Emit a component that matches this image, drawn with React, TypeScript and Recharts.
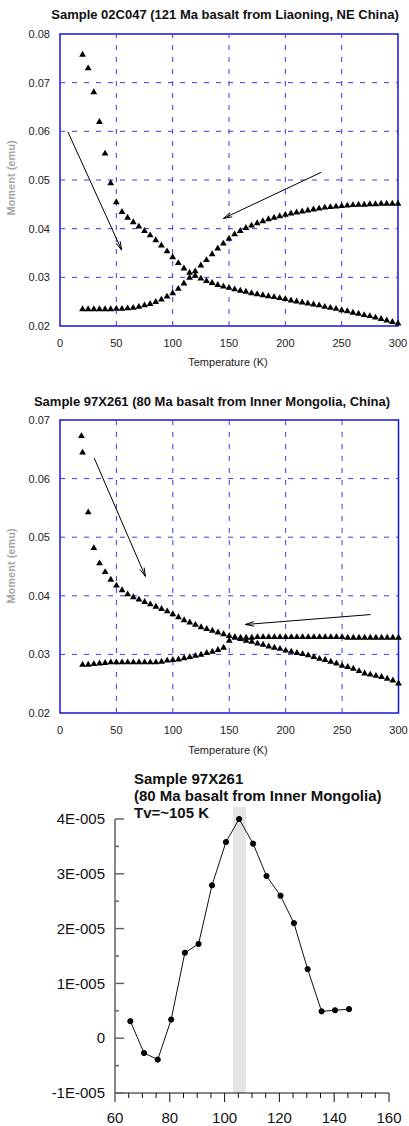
import React from 'react';
import {
  ScatterChart,
  Scatter,
  LineChart,
  Line,
  XAxis,
  YAxis,
  ReferenceLine,
  ReferenceArea,
} from 'recharts';

const FONT = 'Arial, "Liberation Sans", Helvetica, sans-serif';

// ---- Sample 02C047 ----
const tempsA = [
  20, 25, 30, 35, 40, 45, 50, 55, 60, 65, 70, 75, 80, 85, 90, 95, 100, 105, 110, 115,
  120, 125, 130, 135, 140, 145, 150, 155, 160, 165, 170, 175, 180, 185, 190, 195, 200,
  205, 210, 215, 220, 225, 230, 235, 240, 245, 250, 255, 260, 265, 270, 275, 280, 285,
  290, 295, 300,
];
const fallingA = [
  0.0758, 0.073, 0.0681, 0.062, 0.0555, 0.0494, 0.0455, 0.0435, 0.0423, 0.0414,
  0.0405, 0.0396, 0.0387, 0.0377, 0.0366, 0.0354, 0.0342, 0.033, 0.0319, 0.031,
  0.0304, 0.0298, 0.0293, 0.0289, 0.0285, 0.0282, 0.0279, 0.0276, 0.0273, 0.0271,
  0.0268, 0.0266, 0.0264, 0.0262, 0.026, 0.0258, 0.0256, 0.0253, 0.0251, 0.0249,
  0.0247, 0.0245, 0.0243, 0.024, 0.0238, 0.0236, 0.0233, 0.0231, 0.0228, 0.0226,
  0.0223, 0.0221, 0.0218, 0.0215, 0.0212, 0.0209, 0.0206,
];
const risingA = [
  0.0235, 0.0235, 0.0235, 0.0235, 0.0235, 0.0235, 0.0236, 0.0236, 0.0237, 0.0238,
  0.024, 0.0243, 0.0246, 0.025, 0.0255, 0.0261, 0.0268, 0.0277, 0.0288, 0.03,
  0.0313, 0.0325, 0.0336, 0.0348, 0.036, 0.037, 0.038, 0.0389, 0.0396, 0.0402,
  0.0407, 0.0412, 0.0416, 0.042, 0.0423, 0.0426, 0.0429, 0.0432, 0.0434, 0.0436,
  0.0438, 0.044, 0.0442, 0.0444, 0.0445, 0.0446, 0.0447, 0.0448, 0.0449, 0.045,
  0.045, 0.0451, 0.0451, 0.0452, 0.0452, 0.0452, 0.0452,
];
const arrowsA = [
  { from: [7, 0.0599], to: [54.7, 0.0356] },
  { from: [232, 0.0516], to: [145, 0.0421] },
];

// ---- Sample 97X261 ----
const tempsBFalling = [
  19, 20, 25, 30, 35, 40, 45, 50, 55, 60, 65, 70, 75, 80, 85, 90, 95, 100, 105, 110, 115,
  120, 125, 130, 135, 140, 145, 150, 155, 160, 165, 170, 175, 180, 185, 190, 195, 200,
  205, 210, 215, 220, 225, 230, 235, 240, 245, 250, 255, 260, 265, 270, 275, 280, 285,
  290, 295, 300,
];
const fallingB = [
  0.0673, 0.0645,
  0.0543, 0.0482, 0.0456, 0.0441, 0.0428, 0.0418, 0.041, 0.0403, 0.0398, 0.0394,
  0.039, 0.0386, 0.0382, 0.0378, 0.0374, 0.0369, 0.0364, 0.0359, 0.0355, 0.0351,
  0.0347, 0.0344, 0.0341, 0.0338, 0.0335, 0.0332, 0.0329, 0.0327, 0.0324, 0.0322,
  0.0319, 0.0317, 0.0314, 0.0312, 0.031, 0.0307, 0.0305, 0.0303, 0.0301, 0.0299,
  0.0296, 0.0293, 0.0291, 0.0288, 0.0285, 0.0281, 0.0279, 0.0276, 0.0272, 0.0268,
  0.0266, 0.0264, 0.0262, 0.0259, 0.0256, 0.0251,
];
const tempsBRising = tempsA;
const risingB = [
  0.0283, 0.0283, 0.0284, 0.0285, 0.0286, 0.0287, 0.0287, 0.0287, 0.0287, 0.0287,
  0.0287, 0.0287, 0.0287, 0.0287, 0.0288, 0.029, 0.0291, 0.0292, 0.0294, 0.0296,
  0.0298, 0.03, 0.0303, 0.0305, 0.0308, 0.0312, 0.0324, 0.033, 0.0329, 0.0329,
  0.0329, 0.033, 0.033, 0.033, 0.033, 0.033, 0.033, 0.033, 0.033, 0.033,
  0.033, 0.033, 0.033, 0.033, 0.033, 0.033, 0.033, 0.0329, 0.0329, 0.0329,
  0.0329, 0.0329, 0.0329, 0.0329, 0.0329, 0.0329, 0.0329,
];
const arrowsB = [
  { from: [30.3, 0.0635], to: [75.7, 0.0433] },
  { from: [275.3, 0.0368], to: [164.3, 0.0351] },
];

// ---- derivative / Tv panel ----
const tempsC = [
  65.6, 70.6, 75.6, 80.5, 85.5, 90.5, 95.4, 100.5, 105.3, 110.4, 115.3, 120.4, 125.3,
  130.3, 135.4, 140.3, 145.4,
];
const signalC = [
  3.1e-6, -2.7e-6, -3.9e-6, 3.4e-6, 1.56e-5, 1.72e-5, 2.79e-5, 3.58e-5, 4.0e-5, 3.55e-5,
  2.96e-5, 2.6e-5, 2.1e-5, 1.26e-5, 4.9e-6, 5.1e-6, 5.3e-6,
];
const tvBand = [103.1, 107.8];

const tempTicks = [0, 50, 100, 150, 200, 250, 300];
const yTicksA = [0.02, 0.03, 0.04, 0.05, 0.06, 0.07, 0.08];
const yTicksB = [0.02, 0.03, 0.04, 0.05, 0.06, 0.07];
const xTicksC = [
  60, 65, 70, 75, 80, 85, 90, 95, 100, 105, 110, 115, 120, 125, 130, 135, 140, 145, 150,
  155, 160,
];
const yTicksC = [-1e-5, -5e-6, 0, 5e-6, 1e-5, 1.5e-5, 2e-5, 2.5e-5, 3e-5, 3.5e-5, 4e-5];

const GRID = '#3a3ae8';

const zip = (ts: number[], vs: number[]) => ts.map((t, i) => ({ t, m: vs[i] }));

const Tri = (props: any) => {
  const { cx, cy } = props;
  return (
    <polygon
      points={`${cx},${cy - 3.6} ${cx + 3.4},${cy + 2.3} ${cx - 3.4},${cy + 2.3}`}
      fill="#000"
    />
  );
};

const ArrowShape = (props: any) => {
  const { x1, y1, x2, y2 } = props;
  const a = Math.atan2(y2 - y1, x2 - x1);
  const L = 9;
  const w = 0.26;
  const ax = x2 - L * Math.cos(a - w);
  const ay = y2 - L * Math.sin(a - w);
  const bx = x2 - L * Math.cos(a + w);
  const by = y2 - L * Math.sin(a + w);
  return (
    <g>
      <line x1={x1} y1={y1} x2={x2} y2={y2} stroke="#000" strokeWidth={1} />
      <polyline
        points={`${ax},${ay} ${x2},${y2} ${bx},${by}`}
        fill="none"
        stroke="#000"
        strokeWidth={1}
      />
    </g>
  );
};

type MagProps = {
  top: number;
  height: number;
  marginTop: number;
  marginRight: number;
  yDomain: [number, number];
  yTicks: number[];
  falling: { t: number; m: number }[];
  rising: { t: number; m: number }[];
  arrows: { from: number[]; to: number[] }[];
};

const MagChart = ({ top, height, marginTop, marginRight, yDomain, yTicks, falling, rising, arrows }: MagProps) => (
  <div style={{ position: 'absolute', left: 0, top, pointerEvents: 'none' }}>
    <ScatterChart
      width={409}
      height={height}
      margin={{ top: marginTop, right: marginRight, bottom: 0, left: 0 }}
      accessibilityLayer={false}
    >
      <XAxis
        type="number"
        dataKey="t"
        domain={[0, 300]}
        ticks={tempTicks}
        interval={0}
        height={30}
        axisLine={false}
        tickLine={false}
        tickSize={0}
        tickMargin={13}
        tick={{ fill: '#222', fontSize: 11, fontFamily: FONT }}
      />
      <YAxis
        type="number"
        dataKey="m"
        domain={yDomain}
        ticks={yTicks}
        interval={0}
        width={60}
        axisLine={false}
        tickLine={false}
        tickSize={0}
        tickMargin={10}
        tickFormatter={(v: number) => v.toFixed(2)}
        tick={{ fill: '#222', fontSize: 11, fontFamily: FONT }}
      />
      {tempTicks.slice(1, -1).map((t) => (
        <ReferenceLine key={`gx${t}`} x={t} stroke={GRID} strokeDasharray="5 7" />
      ))}
      {yTicks.slice(1, -1).map((v) => (
        <ReferenceLine key={`gy${v}`} y={v} stroke={GRID} strokeDasharray="5 7" />
      ))}
      <ReferenceArea
        x1={0}
        x2={300}
        y1={yDomain[0]}
        y2={yDomain[1]}
        fill="none"
        stroke="#1414e0"
        strokeWidth={1.5}
        ifOverflow="visible"
      />
      <Scatter data={falling} shape={Tri} isAnimationActive={false} />
      <Scatter data={rising} shape={Tri} isAnimationActive={false} />
      {arrows.map((a, i) => (
        <ReferenceLine
          key={`ar${i}`}
          segment={[
            { x: a.from[0], y: a.from[1] },
            { x: a.to[0], y: a.to[1] },
          ]}
          shape={ArrowShape}
          ifOverflow="visible"
        />
      ))}
    </ScatterChart>
  </div>
);

const fmtSci = (v: number) => {
  const n = Math.round(v * 1e5);
  return n === 0 ? '0' : `${n}E-005`;
};

const YTickC = (props: any) => {
  const { x, y, payload } = props;
  const v = payload.value as number;
  const major = Math.abs(v * 1e5 - Math.round(v * 1e5)) < 1e-6;
  return (
    <g>
      <line x1={x} x2={x + (major ? 9 : 4)} y1={y} y2={y} stroke="#666" strokeWidth={1.5} />
      {major && (
        <text x={x - 10} y={y} dy="0.35em" textAnchor="end" fill="#111" fontSize={15} fontFamily={FONT}>
          {fmtSci(v)}
        </text>
      )}
    </g>
  );
};

const XTickC = (props: any) => {
  const { x, y, payload } = props;
  const v = payload.value as number;
  const major = v % 20 === 0;
  return (
    <g>
      <line x1={x} x2={x} y1={y} y2={y + (major ? 9 : 5)} stroke="#111" strokeWidth={1} />
      {major && (
        <text x={x} y={y + 25} dy="0.35em" textAnchor="middle" fill="#111" fontSize={15} fontFamily={FONT}>
          {v}
        </text>
      )}
    </g>
  );
};

const axisLabel: React.CSSProperties = {
  position: 'absolute',
  fontFamily: FONT,
  fontSize: 11,
  lineHeight: '13px',
  color: '#222',
  whiteSpace: 'nowrap',
  textAlign: 'center',
};

const titleStyle: React.CSSProperties = {
  position: 'absolute',
  fontFamily: FONT,
  fontSize: 13,
  fontWeight: 'bold',
  lineHeight: '15px',
  color: '#111',
  whiteSpace: 'nowrap',
  textAlign: 'center',
};

const sideLabel: React.CSSProperties = {
  position: 'absolute',
  width: 100,
  height: 14,
  lineHeight: '14px',
  fontFamily: FONT,
  fontSize: 11,
  fontWeight: 'bold',
  color: '#a6a6a6',
  textAlign: 'center',
  transform: 'rotate(-90deg)',
  whiteSpace: 'nowrap',
};

export default function App() {
  const dataC = tempsC.map((t, i) => ({ t, v: signalC[i] }));
  return (
    <div style={{ position: 'absolute', left: 0, top: 0, width: 409, height: 1126, background: '#fff', overflow: 'hidden' }}>
      <div style={{ ...titleStyle, left: 25, top: 7, width: 400 }}>
        Sample 02C047 (121 Ma basalt from Liaoning, NE China)
      </div>
      <div style={{ ...sideLabel, left: -39, top: 171 }}>Moment (emu)</div>
      <MagChart
        top={0}
        height={356}
        marginTop={34}
        marginRight={11}
        yDomain={[0.02, 0.08]}
        yTicks={yTicksA}
        falling={zip(tempsA, fallingA)}
        rising={zip(tempsA, risingA)}
        arrows={arrowsA}
      />
      <div style={{ ...axisLabel, left: 128, top: 356, width: 200 }}>Temperature (K)</div>

      <div style={{ ...titleStyle, left: 12, top: 394, width: 400 }}>
        Sample 97X261 (80 Ma basalt from Inner Mongolia, China)
      </div>
      <div style={{ ...sideLabel, left: -39, top: 559 }}>Moment (emu)</div>
      <MagChart
        top={380}
        height={363}
        marginTop={40}
        marginRight={10.5}
        yDomain={[0.02, 0.07]}
        yTicks={yTicksB}
        falling={zip(tempsBFalling, fallingB)}
        rising={zip(tempsBRising, risingB)}
        arrows={arrowsB}
      />
      <div style={{ ...axisLabel, left: 128, top: 744, width: 200 }}>Temperature (K)</div>

      <div style={{ position: 'absolute', left: 0, top: 800, pointerEvents: 'none' }}>
        <LineChart
          width={409}
          height={326}
          data={dataC}
          margin={{ top: 19, right: 20, bottom: 0, left: 0 }}
          accessibilityLayer={false}
        >
          <ReferenceArea
            x1={tvBand[0]}
            x2={tvBand[1]}
            y1={-1e-5}
            y2={4.22e-5}
            fill="#e4e4e4"
            fillOpacity={1}
            stroke="none"
            ifOverflow="visible"
          />
          <XAxis
            type="number"
            dataKey="t"
            domain={[60, 160]}
            ticks={xTicksC}
            interval={0}
            height={33}
            axisLine={{ stroke: '#111' }}
            tickLine={false}
            tickSize={0}
            tickMargin={0}
            tick={<XTickC />}
          />
          <YAxis
            type="number"
            domain={[-1e-5, 4e-5]}
            ticks={yTicksC}
            interval={0}
            width={115}
            axisLine={{ stroke: '#111' }}
            tickLine={false}
            tickSize={0}
            tickMargin={0}
            tick={<YTickC />}
          />
          <Line
            dataKey="v"
            stroke="#111"
            strokeWidth={1}
            dot={{ r: 2.6, fill: '#000', stroke: '#000', strokeWidth: 1 }}
            isAnimationActive={false}
          />
        </LineChart>
      </div>
      <div
        style={{
          position: 'absolute',
          left: 134,
          top: 770,
          fontFamily: FONT,
          fontSize: 15,
          fontWeight: 'bold',
          lineHeight: '17px',
          color: '#111',
          whiteSpace: 'nowrap',
        }}
      >
        Sample 97X261
        <br />
        (80 Ma basalt from Inner Mongolia)
        <br />
        Tv=~105 K
      </div>
    </div>
  );
}
